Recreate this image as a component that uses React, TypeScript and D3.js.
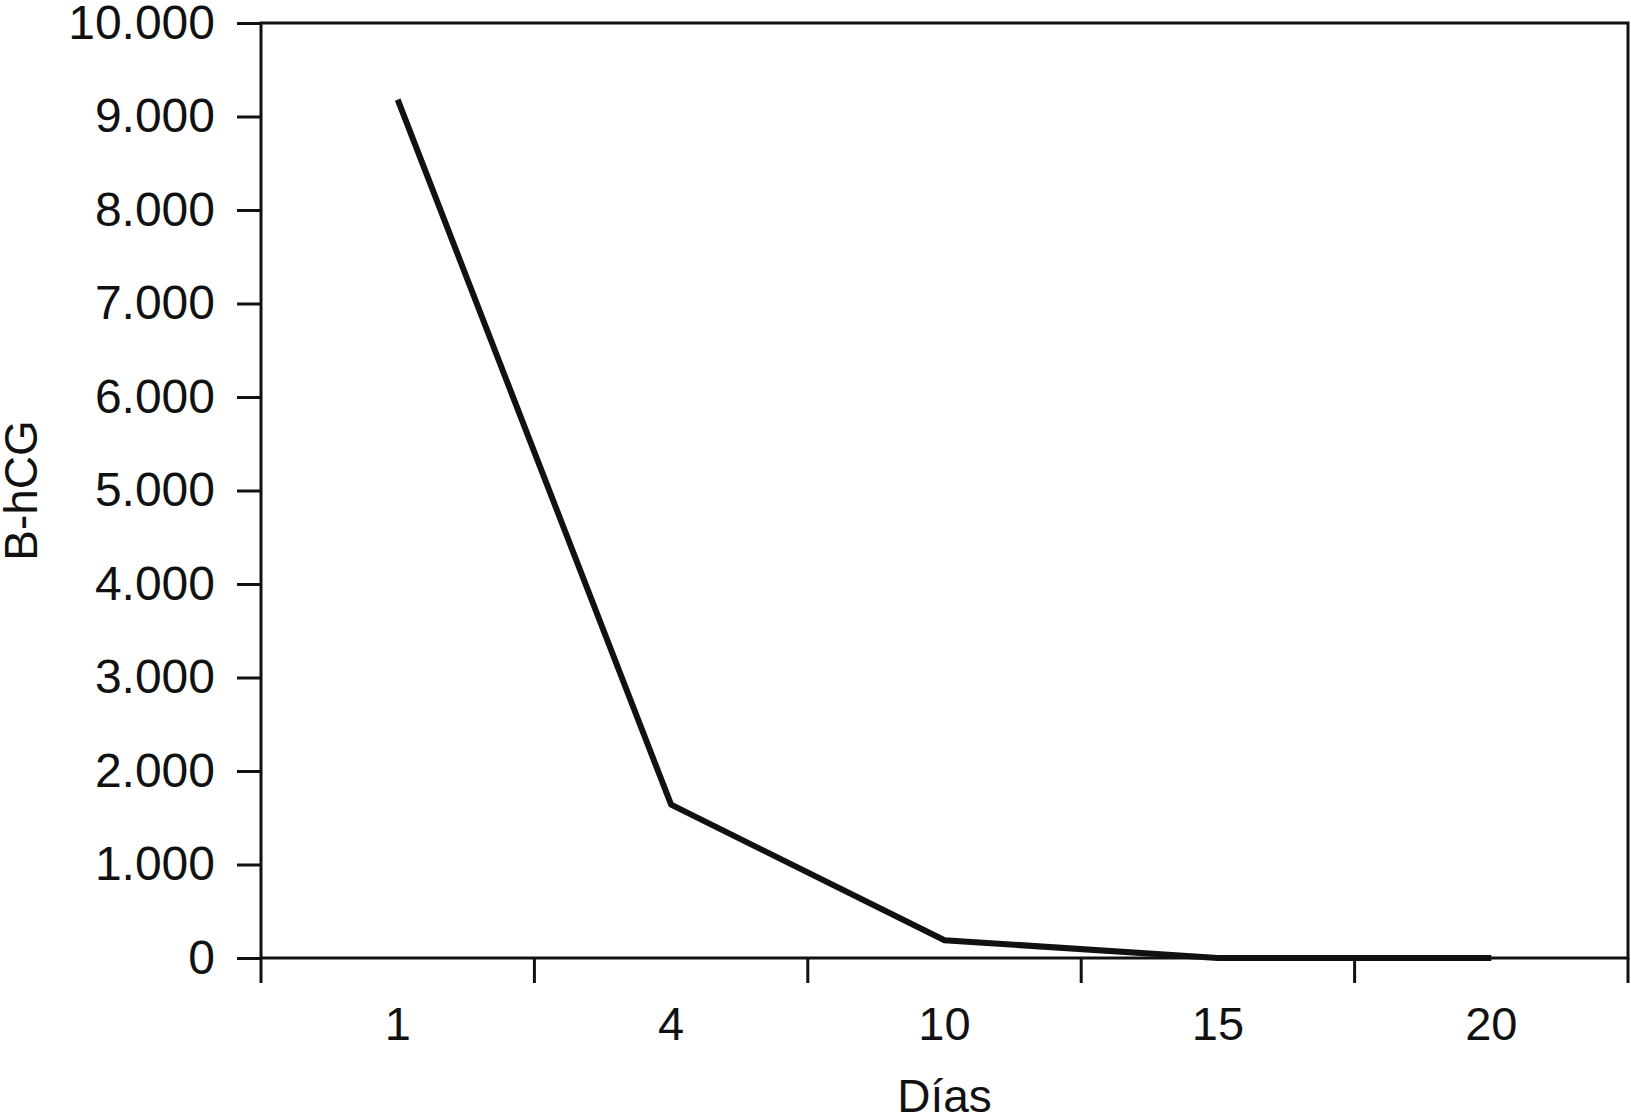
import React, { useEffect, useRef } from "react";
import * as d3 from "d3";

// B-hCG descent over days

const days = ["1", "4", "10", "15", "20"];
const bhcg = [9180, 1640, 190, 0, 0];
const yTicks = [0, 1000, 2000, 3000, 4000, 5000, 6000, 7000, 8000, 9000, 10000];
const xTitle = "Días";
const yTitle = "B-hCG";

const W = 1631;
const H = 1118;
const FONT = "'Liberation Sans', Arial, Helvetica, sans-serif";

export default function App() {
    const svgRef = useRef<SVGSVGElement | null>(null);

    useEffect(() => {
        const svg = d3.select(svgRef.current);
        svg.selectAll("*").remove();

        const margin = { top: 23, right: 3, bottom: 160, left: 261 };
        const width = W - margin.left - margin.right;
        const height = H - margin.top - margin.bottom;

        const g = svg.append("g").attr("transform", `translate(${margin.left},${margin.top})`);

        const x = d3.scaleBand<string>().domain(days).range([0, width]).padding(0);
        const y = d3.scaleLinear().domain([0, 10000]).range([height, 0]);

        // y axis ticks + labels
        const yAxis = d3
            .axisLeft(y)
            .tickValues(yTicks)
            .tickSize(24)
            .tickPadding(22)
            .tickFormat((d) => d3.format(",")(d as number).replace(/,/g, "."));
        const ya = g.append("g").call(yAxis);
        ya.select(".domain").remove();
        ya.selectAll("line").attr("stroke", "#111").attr("stroke-width", 3);
        ya.selectAll("text")
            .attr("font-family", FONT)
            .attr("font-size", 48)
            .attr("fill", "#111");

        // x ticks at band edges
        const edges = [...days.map((d) => x(d) as number), width];
        g.selectAll(".xtick")
            .data(edges)
            .join("line")
            .attr("x1", (d) => d)
            .attr("x2", (d) => d)
            .attr("y1", height)
            .attr("y2", height + 25)
            .attr("stroke", "#111")
            .attr("stroke-width", 3);

        g.selectAll(".xlabel")
            .data(days)
            .join("text")
            .attr("x", (d) => (x(d) as number) + x.bandwidth() / 2)
            .attr("y", height + 82)
            .attr("text-anchor", "middle")
            .attr("font-family", FONT)
            .attr("font-size", 47)
            .attr("fill", "#111")
            .text((d) => d);

        // frame
        g.append("rect")
            .attr("x", 0)
            .attr("y", 0)
            .attr("width", width)
            .attr("height", height)
            .attr("fill", "none")
            .attr("stroke", "#111")
            .attr("stroke-width", 3);

        const line = d3
            .line<number>()
            .x((_, i) => (x(days[i]) as number) + x.bandwidth() / 2)
            .y((d) => y(d));

        g.append("path")
            .datum(bhcg)
            .attr("fill", "none")
            .attr("stroke", "#111")
            .attr("stroke-width", 6)
            .attr("stroke-linejoin", "miter")
            .attr("d", line);

        // titles
        g.append("text")
            .attr("x", width / 2)
            .attr("y", height + 154)
            .attr("text-anchor", "middle")
            .attr("font-family", FONT)
            .attr("font-size", 46)
            .attr("fill", "#111")
            .text(xTitle);

        svg.append("text")
            .attr("transform", `translate(37,${margin.top + height / 2}) rotate(-90)`)
            .attr("text-anchor", "middle")
            .attr("font-family", FONT)
            .attr("font-size", 46)
            .attr("fill", "#111")
            .text(yTitle);
    }, []);

    return (
        <svg
            ref={svgRef}
            width={W}
            height={H}
            style={{ position: "absolute", left: 0, top: 0, background: "#fff" }}
        />
    );
}
